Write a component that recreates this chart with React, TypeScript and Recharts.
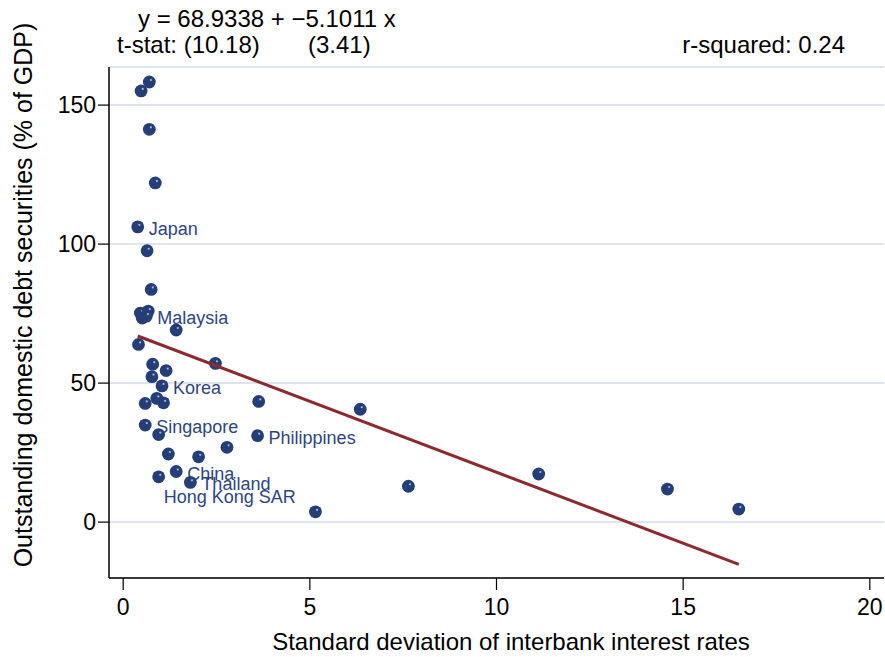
import React from 'react';
import { ScatterChart, Scatter, XAxis, YAxis, CartesianGrid } from 'recharts';

// Standard deviation of interbank interest rates (x)
const sdInterbankRates = [
  0.7, 0.48, 0.7, 0.86, 0.39, 0.64, 0.75, 0.46, 0.67, 0.51, 0.62, 1.42, 0.41,
  0.79, 0.77, 1.15, 2.47, 1.04, 0.59, 0.9, 1.08, 3.63, 0.59, 0.95, 3.6, 2.78,
  1.21, 2.02, 1.42, 0.95, 1.8, 5.15, 6.35, 11.13, 7.64, 14.58, 16.49,
];
// Outstanding domestic debt securities, % of GDP (y)
const debtSecurities = [
  158.3, 155.1, 141.3, 122.0, 106.2, 97.6, 83.7, 75.2, 75.9, 73.4, 74.1, 69.1,
  63.9, 56.8, 52.3, 54.5, 57.1, 49.0, 42.7, 44.5, 42.9, 43.4, 34.9, 31.5, 31.1,
  26.9, 24.5, 23.5, 18.2, 16.3, 14.3, 3.7, 40.6, 17.3, 12.9, 11.9, 4.7,
];
const countryLabels = [
  '', '', '', '', 'Japan', '', '', '', '', '', 'Malaysia', '', '',
  '', '', '', '', 'Korea', '', '', '', '', 'Singapore', '', 'Philippines', '',
  '', '', 'China', 'Hong Kong SAR', 'Thailand', '', '', '', '', '', '',
];
const xTicks = [0, 5, 10, 15, 20];
const yTicks = [0, 50, 100, 150];

// fitted regression (from the equation shown on the chart)
const fitIntercept = 68.9338;
const fitSlope = -5.1011;
const fitRange = [0.39, 16.49];

const points = sdInterbankRates.map((x, i) => ({ x, y: debtSecurities[i], label: countryLabels[i] }));
const fitData = fitRange.map((x) => ({ x, y: fitIntercept + fitSlope * x }));

const FONT = '"Liberation Sans", Arial, Helvetica, sans-serif';
const LABEL_OFFSETS: Record<string, [number, number]> = {
  'Hong Kong SAR': [5, 20],
};

const Dot = (props: any) => {
  const { cx, cy, payload } = props;
  if (cx == null || cy == null) return <g />;
  const label = payload?.label;
  const off = (label && LABEL_OFFSETS[label]) || [11, 2];
  return (
    <g>
      <circle cx={cx} cy={cy} r={6.4} fill="#243f78" />
      <circle cx={cx + 1.6} cy={cy - 2} r={1.1} fill="#a9b6d3" />
      {label ? (
        <text
          x={cx + off[0]}
          y={cy + off[1]}
          dominantBaseline="central"
          fontSize={18}
          fill="#2e4580"
          fontFamily={FONT}
        >
          {label}
        </text>
      ) : null}
    </g>
  );
};

export default function App() {
  return (
    <div style={{ position: 'absolute', left: 0, top: 0, width: 885, height: 657, background: '#fff' }}>
      <ScatterChart width={885} height={657} margin={{ top: 67, right: 1, bottom: 0, left: 0 }}>
        <CartesianGrid vertical={false} stroke="#dfe5ef" strokeWidth={2} />
        <XAxis
          type="number"
          dataKey="x"
          domain={[-0.38, 20.38]}
          ticks={xTicks}
          allowDataOverflow
          height={79}
          tickSize={12}
          tickMargin={9}
          tick={{ fontSize: 23, fill: '#000', fontFamily: FONT }}
          axisLine={{ stroke: '#000', strokeWidth: 1.5 }}
          tickLine={{ stroke: '#000', strokeWidth: 1.2 }}
        />
        <YAxis
          type="number"
          dataKey="y"
          domain={[-20.1, 163.7]}
          ticks={yTicks}
          allowDataOverflow
          width={109}
          tickSize={11}
          tickMargin={2}
          tick={{ fontSize: 23, fill: '#000', fontFamily: FONT }}
          axisLine={{ stroke: '#000', strokeWidth: 1.5 }}
          tickLine={{ stroke: '#000', strokeWidth: 1.2 }}
        />
        <Scatter data={points} shape={Dot} isAnimationActive={false} />
        <Scatter
          data={fitData}
          line={{ stroke: '#8b2b30', strokeWidth: 3 }}
          shape={() => <g />}
          isAnimationActive={false}
        />
      </ScatterChart>
      <svg
        width={885}
        height={657}
        style={{ position: 'absolute', left: 0, top: 0, pointerEvents: 'none' }}
        fontFamily={FONT}
      >
        <text x={138} y={27} fontSize={24} fill="#000">y = 68.9338 + −5.1011 x</text>
        <text x={117} y={53} fontSize={24} fill="#000">t-stat: (10.18)</text>
        <text x={308} y={53} fontSize={24} fill="#000">(3.41)</text>
        <text x={845} y={53} fontSize={24} fill="#000" textAnchor="end">r-squared: 0.24</text>
        <text x={511} y={650} fontSize={24} fill="#000" textAnchor="middle">
          Standard deviation of interbank interest rates
        </text>
        <text x={32} y={295} fontSize={25} fill="#000" textAnchor="middle" transform="rotate(-90, 32, 295)">
          Outstanding domestic debt securities (% of GDP)
        </text>
      </svg>
    </div>
  );
}
